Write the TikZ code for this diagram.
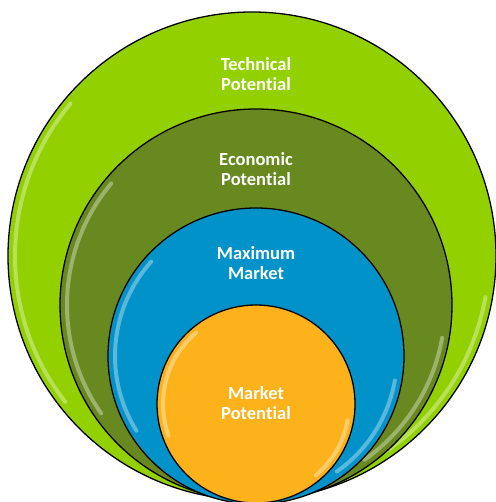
\documentclass[tikz,border=0pt]{standalone}
\usepackage{fontspec}
\setmainfont{Carlito}[RawFeature={-liga;-clig;-calt;-dlig}]
\definecolor{techc}{RGB}{146,208,0}
\definecolor{econc}{RGB}{103,137,31}
\definecolor{maxc}{RGB}{0,146,200}
\definecolor{mktc}{RGB}{253,178,28}
\newcommand\potword{Poten\kern0pt t\kern0pt ial}
\begin{document}
\begin{tikzpicture}[x=1pt,y=-1pt,
  ring/.style={circle,draw=black,line width=1.3pt,inner sep=0pt},
  lbl/.style={text=white,font=\bfseries\fontsize{18.5}{20}\selectfont,align=center},
  gloss/.style={white,opacity=0.35,line width=4pt,line cap=round}]
\useasboundingbox (0,0) rectangle (495,502);
\fill[white] (0,0) rectangle (495,502);
% circles
\node[ring,fill=techc,minimum size=488pt] (tech) at (252,256) {};
\draw[gloss] ([shift={(140:237pt)}]tech.center) arc[start angle=140,end angle=218,radius=237pt];
\draw[gloss] ([shift={(-55:237pt)}]tech.center) arc[start angle=-55,end angle=-10,radius=237pt];
\node[ring,fill=econc,minimum size=392pt] (econ) at (256,305) {};
\draw[gloss] ([shift={(140:189pt)}]econ.center) arc[start angle=140,end angle=215,radius=189pt];
\draw[gloss] ([shift={(-55:189pt)}]econ.center) arc[start angle=-55,end angle=-10,radius=189pt];
\node[ring,fill=maxc,minimum size=296pt] (maxm) at (256,356) {};
\draw[gloss] ([shift={(138:141pt)}]maxm.center) arc[start angle=138,end angle=212,radius=141pt];
\draw[gloss] ([shift={(-55:141pt)}]maxm.center) arc[start angle=-55,end angle=-10,radius=141pt];
\node[ring,fill=mktc,minimum size=198pt] (mkt) at (256,404) {};
\draw[gloss] ([shift={(130:93pt)}]mkt.center) arc[start angle=130,end angle=200,radius=93pt];
\draw[gloss] ([shift={(-50:93pt)}]mkt.center) arc[start angle=-50,end angle=-10,radius=93pt];
% labels
\node[lbl] (techl) at (256,74) {Technical\\\potword};
\node[lbl] (econl) at (256,169) {Economic\\\potword};
\node[lbl] (maxl) at (256,263) {Maximum\\Market};
\node[lbl] (mktl) at (256,403) {Market\\\potword};
\end{tikzpicture}
\end{document}
